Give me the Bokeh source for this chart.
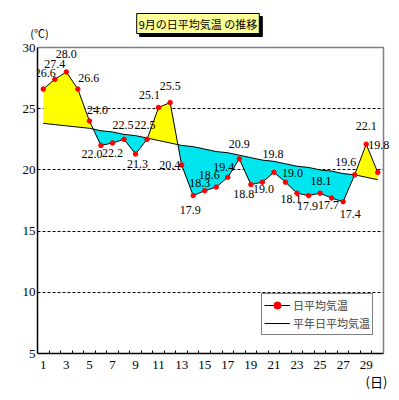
import numpy as np
from bokeh.plotting import figure
from bokeh.models import (FixedTicker, Label, LabelSet, ColumnDataSource, Legend,
                          LegendItem, Range1d, BoxAnnotation)
from bokeh.embed import file_html
from bokeh.resources import INLINE

days = list(range(1, 31))
daily = [26.6, 27.4, 28.0, 26.6, 24.0, 22.0, 22.2, 22.5, 21.3, 22.5,
         25.1, 25.5, 20.4, 17.9, 18.3, 18.6, 19.4, 20.9, 18.8, 19.0,
         19.8, 19.0, 18.1, 17.9, 18.1, 17.7, 17.4, 19.6, 22.1, 19.8]
normal = [23.8, 23.7, 23.6, 23.5, 23.4, 23.2, 23.1, 22.9, 22.8, 22.6,
          22.4, 22.2, 22.0, 21.9, 21.7, 21.5, 21.4, 21.2, 21.0, 20.8,
          20.7, 20.5, 20.3, 20.2, 20.0, 19.9, 19.7, 19.6, 19.4, 19.2]
y_ticks = [5, 10, 15, 20, 25, 30]
title_text = "9月の日平均気温 の推移"
series_names = ["日平均気温", "平年日平均気温"]

# plotting area limits (data units)
X0, X1 = days[0] - 0.5, days[-1] + 0.5
Y0, Y1 = y_ticks[0], y_ticks[-1]

# label placement offsets (screen px, +down) -- styling only
lab_dx = [2, 0, 0, 11, 8, -9, 0, -1, 2, -2, -9, 0, -12, -3, -5, -7, -4, 0, -7, 1,
          -1, 7, -6, -1, 1, -3, 7, -9, 0, 1]
lab_dy = [-16, -15, -18, -11, -11, 9, 10, -14, 10, -14, -12, -17, 0, 14, -8, -12, -10, -15, 9, 7,
          -18, -9, 6, 10, -12, 7, 12, -13, -18, -27]

NUM_FONT = "Liberation Serif"
JP_FONT = "Noto Sans CJK JP"
CYAN = "#00E6EE"
YELLOW = "#FFFF00"

# pixel geometry: plot box 37..383 x 47..353 inside a 399x400 canvas
LEFT_B = 37
PX_X = 346 / (X1 - X0)
PX_Y = 306 / (Y1 - Y0)
x_end = X1 + (399 - 383) / PX_X
y_end = Y1 + 47 / PX_Y

p = figure(width=399, height=400, output_backend="svg", toolbar_location=None,
           x_range=Range1d(X0, x_end), y_range=Range1d(Y0, y_end),
           min_border_left=LEFT_B, min_border_right=0, min_border_top=0, min_border_bottom=47,
           background_fill_color="white", border_fill_color="white")
p.outline_line_color = None

# axes
p.xaxis.ticker = FixedTicker(ticks=days[::2], minor_ticks=[d + 0.5 for d in days[:-1]])
p.xaxis.bounds = (X0, X1)
p.xaxis.major_tick_line_color = None
p.xaxis.major_tick_out = 0
p.xaxis.major_tick_in = 0
p.xaxis.minor_tick_in = 3
p.xaxis.minor_tick_out = 0
p.xaxis.minor_tick_line_color = "black"
p.xaxis.axis_line_color = "black"
p.xaxis.axis_line_width = 1.5
p.xaxis.major_label_standoff = 7
p.xaxis.major_label_text_font = NUM_FONT
p.xaxis.major_label_text_font_size = "13px"
p.xaxis.major_label_text_color = "black"

p.yaxis.ticker = FixedTicker(ticks=y_ticks)
p.yaxis.bounds = (Y0, Y1)
p.yaxis.major_tick_line_color = None
p.yaxis.major_tick_out = 0
p.yaxis.major_tick_in = 0
p.yaxis.minor_tick_line_color = None
p.yaxis.axis_line_color = "black"
p.yaxis.axis_line_width = 1.5
p.yaxis.major_label_standoff = 2
p.yaxis.major_label_text_font = NUM_FONT
p.yaxis.major_label_text_font_size = "13px"
p.yaxis.major_label_text_color = "black"

p.xgrid.grid_line_color = None
p.ygrid.ticker = FixedTicker(ticks=y_ticks[1:-1])
p.ygrid.grid_line_color = "black"
p.ygrid.grid_line_dash = "3 2"
p.ygrid.grid_line_width = 1
# keep grid lines inside the plot box
p.add_layout(BoxAnnotation(left=X1, fill_color="white", fill_alpha=1, line_color=None, level="underlay"))

# fill between (insert crossing points)
xs, ds, ns = [], [], []
for i in range(len(days)):
    if i > 0:
        a = daily[i - 1] - normal[i - 1]
        b = daily[i] - normal[i]
        if a * b < 0:
            t = a / (a - b)
            v = normal[i - 1] + t * (normal[i] - normal[i - 1])
            xs.append(days[i - 1] + t); ds.append(v); ns.append(v)
    xs.append(days[i]); ds.append(daily[i]); ns.append(normal[i])
ds = np.array(ds); ns = np.array(ns)
p.varea(x=xs, y1=ns, y2=np.maximum(ds, ns), fill_color=YELLOW)
p.varea(x=xs, y1=np.minimum(ds, ns), y2=ns, fill_color=CYAN)

# top/right border of plot box (grey)
p.line([X0, X1, X1], [Y1, Y1, Y0], line_color="#808080", line_width=1.5)

r_norm = p.line(days, normal, line_color="black", line_width=1)
r_line = p.line(days, daily, line_color="black", line_width=1)
r_pts = p.scatter(days, daily, marker="circle", size=4.5, fill_color="red", line_color="red")

src = ColumnDataSource(dict(x=days, y=daily, t=[f"{v:.1f}" for v in daily],
                            dx=lab_dx, dy=[-d for d in lab_dy]))
labels = LabelSet(x="x", y="y", text="t", source=src, x_offset="dx", y_offset="dy",
                  text_align="center", text_baseline="middle",
                  text_font=NUM_FONT, text_font_size="12px", text_color="black")
p.add_layout(labels)

legend = Legend(items=[LegendItem(label=series_names[0], renderers=[r_line, r_pts]),
                       LegendItem(label=series_names[1], renderers=[r_norm])],
                location=(261 - LEFT_B, 18), orientation="vertical",
                border_line_color="black", border_line_width=1.5,
                background_fill_color="white", background_fill_alpha=1,
                padding=2, spacing=0, margin=0,
                glyph_width=26, glyph_height=18, label_height=18, label_standoff=3,
                label_text_font=JP_FONT, label_text_font_size="11px")
p.add_layout(legend, "center")

# title box with shadow
common = dict(x=X0 + (197.5 - 37) / PX_X, y=Y1 + (47 - 23) / PX_Y, text=title_text,
              text_font=JP_FONT, text_font_size="11px",
              text_align="center", text_baseline="middle", padding=2)
shadow = Label(text_color="black", background_fill_color="black", border_line_color="black",
               x_offset=3, y_offset=-3, **common)
title = Label(text_color="black", background_fill_color="#FFFF99", border_line_color="black",
              **common)
p.add_layout(shadow)
p.add_layout(title)

unit_c = Label(x=X0 + (39 - 37) / PX_X, y=Y1 + (47 - 32) / PX_Y, text="(℃)",
               text_font=JP_FONT, text_font_size="11px",
               text_color="black", text_align="center", text_baseline="middle")
p.add_layout(unit_c, "left")
unit_d = Label(x=X0 + (376 - 37) / PX_X, y=Y1 - (381 - 47) / PX_Y, text="(日)",
               text_font=JP_FONT, text_font_size="13px",
               text_color="black", text_align="center", text_baseline="middle")
p.add_layout(unit_d, "below")

open("out.html", "w").write(file_html(p, INLINE))
